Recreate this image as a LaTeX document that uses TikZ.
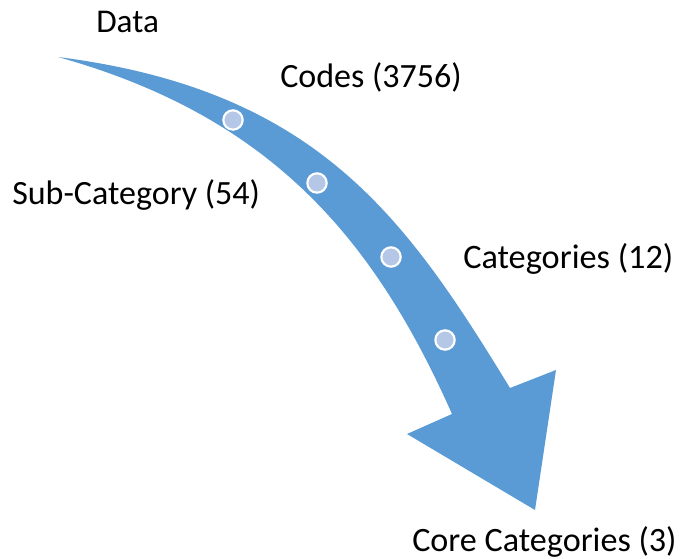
\documentclass[tikz,border=0pt]{standalone}
\usepackage{fontspec}
\setmainfont{Carlito}
\definecolor{flow}{HTML}{5B9BD5}
\definecolor{stepdot}{HTML}{B4C7E7}
\newcommand{\lblsize}[1]{\fontsize{#1}{#1}\selectfont}
\begin{document}
\begin{tikzpicture}[x=0.75pt,y=-0.75pt,
  lbl/.style={anchor=base west,inner sep=0pt},
  stage/.style={circle,fill=stepdot,draw=white,line width=1.6pt,minimum size=14.5pt,inner sep=0pt}]
\useasboundingbox (0,0) rectangle (681,559);

% curved band with the arrow head at its lower end
\fill[flow]
  (58,57) .. controls (318,90) and (406,218) .. (510,388)
  -- (556,370) -- (535,510) -- (407,434) -- (452,414)
  .. controls (373,236) and (269,116) .. (58,57)
  -- cycle;

% stage markers along the band
\node[stage] (s1) at (233,120) {};
\node[stage] (s2) at (317,183) {};
\node[stage] (s3) at (391,257) {};
\node[stage] (s4) at (445,340) {};

% labels
\node[lbl,font=\lblsize{24.9}] (data) at (96,33) {Data};
\node[lbl,font=\lblsize{25.5}] (codes) at (280,88) {Codes (3756)};
\node[lbl,font=\lblsize{25.5}] (sub) at (12,205) {Sub-Category (54)};
\node[lbl,font=\lblsize{25.7}] (cat) at (463,269) {Categories (12)};
\node[lbl,font=\lblsize{25.6}] (core) at (412,551) {Core Categories (3)};
\end{tikzpicture}
\end{document}
